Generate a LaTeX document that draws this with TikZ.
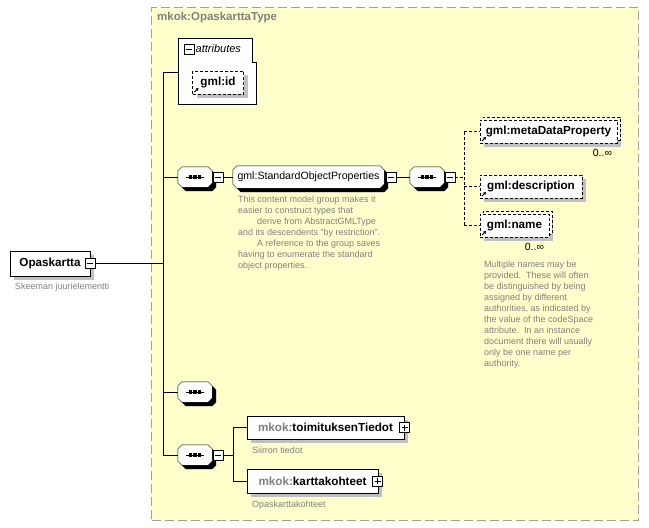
\documentclass[tikz,border=0pt]{standalone}
\usepackage{fontspec}
\setmainfont{Liberation Sans}
\usetikzlibrary{positioning, shadows, arrows.meta, backgrounds}

\definecolor{tipofondo}{HTML}{FFFFCC}
\definecolor{tipoborde}{HTML}{A0A0A0}
\definecolor{nota}{HTML}{808080}
\definecolor{sombra}{HTML}{C0C0C0}

% contorno achaflanado alrededor de un nodo
\newcommand{\octo}[1]{([xshift=4pt]#1.north west) -- ([xshift=-4pt]#1.north east)
    -- ([yshift=-4pt]#1.north east) -- ([yshift=4pt]#1.south east)
    -- ([xshift=-4pt]#1.south east) -- ([xshift=4pt]#1.south west)
    -- ([yshift=4pt]#1.south west) -- ([yshift=-4pt]#1.north west) -- cycle}
\newcommand{\chaflan}[1]{%
    \fill [sombra, transform canvas={xshift=4pt, yshift=-4pt}] \octo{#1};
    \filldraw [fill=white] \octo{#1};}
\newcommand{\secuencia}[1]{%
    \chaflan{#1}
    \draw ([xshift=-9pt]#1.center) -- ([xshift=9pt]#1.center);
    \foreach \d in {-4.5,0,4.5}
        \fill ([shift={(\d pt-1.6pt,-1.6pt)}]#1.center) rectangle ([shift={(\d pt+1.6pt,1.6pt)}]#1.center);}

\begin{document}
\begin{tikzpicture}[x=1pt, y=-1pt, line width=0.9pt,
    sombra/.style={drop shadow={shadow xshift=4pt, shadow yshift=-4pt, fill=sombra, opacity=1}},
    elem/.style={draw, fill=white, sombra, font=\fontsize{11.7}{13}\selectfont\bfseries, inner sep=0pt},
    ref/.style={elem, dash pattern=on 3pt off 2pt,
        path picture={\draw[solid, line width=1pt, -{Triangle[length=2.5pt, width=3pt]}]
            ([shift={(2pt,2pt)}]path picture bounding box.south west) -- ++(4pt,4pt);}},
    multi/.style={copy shadow={shadow xshift=3pt, shadow yshift=3pt, draw, dash pattern=on 3pt off 2pt, fill=white}},
    grupo/.style={inner sep=0pt, font=\fontsize{10.6}{12}\selectfont},
    seq/.style={inner sep=0pt, minimum width=34, minimum height=20},
    tog/.style={draw, fill=white, minimum size=10, inner sep=0pt, line width=0.8pt,
        path picture={\draw ([xshift=-3pt]path picture bounding box.center) -- ([xshift=3pt]path picture bounding box.center);}},
    mas/.style={draw, fill=white, minimum size=10, inner sep=0pt, line width=0.8pt,
        path picture={\draw ([xshift=-3pt]path picture bounding box.center) -- ([xshift=3pt]path picture bounding box.center);
            \draw ([yshift=-3pt]path picture bounding box.center) -- ([yshift=3pt]path picture bounding box.center);}},
    nota/.style={text=nota, font=\fontsize{9}{10.9}\selectfont, align=left, inner sep=0pt},
    multip/.style={font=\fontsize{10.5}{11}\selectfont, inner sep=0pt}]
    \useasboundingbox (0,0) rectangle (649,528);

    % tipo
    \begin{pgfonlayer}{background}
    \node [draw=tipoborde, line width=1.4pt, dash pattern=on 9pt off 4pt, fill=tipofondo,
        minimum width=487, minimum height=513, anchor=north west] (tipo) at (151,7) {};
    \end{pgfonlayer}
    \node [anchor=west, text=nota, font=\fontsize{11.5}{13}\selectfont\bfseries, inner sep=0pt] (tipoT) at (157,18) {mkok:OpaskarttaType};
    \coordinate (sp) at (163,0);
    \coordinate (dv) at (464,0);
    \coordinate (vl) at (233,0);

    % elemento raiz
    \node [elem, minimum width=80, minimum height=25] (opask) at (50,263.5) {Opaskartta};
    \node [tog] (opaskT) at (opask.east) {};
    \node [nota, below right=7pt and 5pt of opask.south west] (opaskN) {Skeeman juurielementti};

    % atributos
    \draw [fill=white] (178,38) -- (252,38) -- (252,62) -- (256,62) -- (256,104) -- (178,104) -- cycle;
    \coordinate (attrW) at (178,72);
    \node [tog] (attrT) at (189,49) {};
    \node [anchor=west, inner sep=0pt, font=\fontsize{11}{12}\selectfont\itshape] (attrL) at (195.5,49) {attributes};
    \node [ref, minimum width=51, minimum height=23] (gid) at (218,82.5) {gml:id};

    % grupo estandar
    \node [seq] (s1) at (195,177) {};
    \node [tog] (s1T) at (218,177) {};
    \node [grupo, minimum width=151, minimum height=22] (sop) at (308.5,177) {gml:StandardObjectProperties};
    \node [tog] (sopT) at (391,177) {};
    \node [nota, below right=8pt and 5pt of sop.south west] (sopN) {This content model group makes it\\
        easier to construct types that\\
        \hspace*{19pt}derive from AbstractGMLType\\
        and its descendents "by restriction".\\
        \hspace*{19pt}A reference to the group saves\\
        having to enumerate the standard\\
        object properties.};
    \node [seq] (s2) at (427,177) {};
    \node [tog] (s2T) at (450,177) {};
    \node [ref, multi, minimum width=137, minimum height=23] (mdp) at (548.5,131.5) {gml:metaDataProperty};
    \node [multip, below left=6pt and 5pt of mdp.south east] (mdpM) {0..∞};
    \node [ref, minimum width=102, minimum height=23] (desc) at (531,186.5) {gml:description};
    \node [ref, multi, minimum width=69, minimum height=23] (gname) at (514.5,225.5) {gml:name};
    \node [multip, below left=6pt and 5pt of gname.south east] (gnameM) {0..∞};
    \node [nota, below right=24pt and 4pt of gname.south west] (gnameN) {Multiple names may be\\
        provided.\ \ These will often\\
        be distinguished by being\\
        assigned by different\\
        authorities, as indicated by\\
        the value of the codeSpace\\
        attribute.\ \ In an instance\\
        document there will usually\\
        only be one name per\\
        authority.};

    % secuencias
    \node [seq] (s3) at (195,392) {};
    \node [seq] (s4) at (195,455) {};
    \node [tog] (s4T) at (218,455) {};
    \node [elem, minimum width=157, minimum height=23] (tt) at (325.5,427.5) {\textcolor{nota}{mkok:}toimituksenTiedot};
    \node [mas] (ttT) at (404.5,427.5) {};
    \node [nota, below right=8pt and 5pt of tt.south west] (ttN) {Siirron tiedot};
    \node [elem, minimum width=131, minimum height=24] (kk) at (312.5,481) {\textcolor{nota}{mkok:}karttakohteet};
    \node [mas] (kkT) at (377.5,481) {};
    \node [nota, below right=8pt and 5pt of kk.south west] (kkN) {Opaskarttakohteet};

    % formas achaflanadas
    \begin{pgfonlayer}{background}
    \chaflan{sop}
    \secuencia{s1}
    \secuencia{s2}
    \secuencia{s3}
    \secuencia{s4}
    \end{pgfonlayer}

    % conexiones
    \draw (opaskT.east) -- (opaskT.east -| sp);
    \draw (attrW -| sp) -- (s4.west -| sp);
    \draw (attrW -| sp) -- (attrW);
    \path (s1.west -| sp) edge (s1.west)
        (s3.west -| sp) edge (s3.west)
        (s4.west -| sp) edge (s4.west)
        (s1T) edge (sop)
        (sopT) edge (s2);
    \draw [dash pattern=on 3pt off 2pt] (s2T.east) -- (s2T.east -| dv);
    \draw [dash pattern=on 3pt off 2pt] (mdp.west -| dv) -- (gname.west -| dv);
    \path [dash pattern=on 3pt off 2pt] (mdp.west -| dv) edge (mdp.west)
        (desc.west -| dv) edge (desc.west)
        (gname.west -| dv) edge (gname.west);
    \draw (s4T.east) -- (s4T.east -| vl);
    \draw (tt.west -| vl) -- (kk.west -| vl);
    \path (tt.west -| vl) edge (tt.west)
        (kk.west -| vl) edge (kk.west);
\end{tikzpicture}
\end{document}
